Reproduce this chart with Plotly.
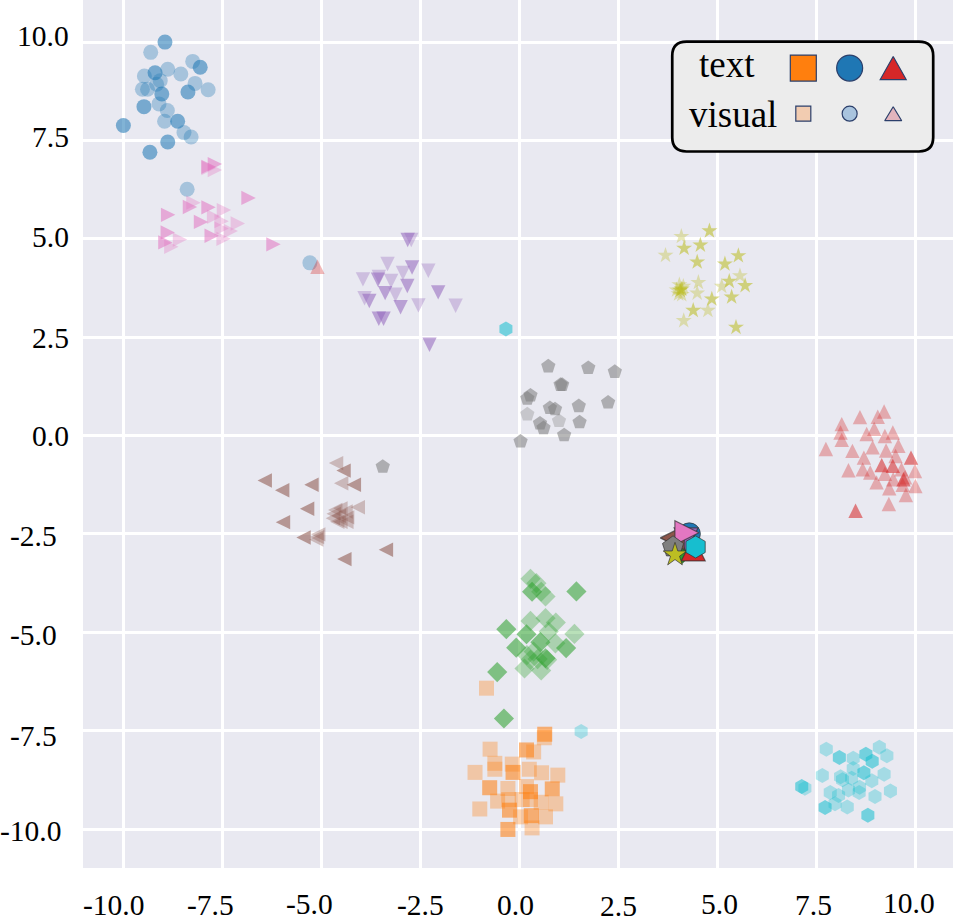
import plotly.graph_objects as go

# strong = more opaque points, faint = lighter points
blue_strong_x = [-8.95, -8.06, -9.2, -9.03, -8.37, -9.48, -8.63, -10.0, -8.88, -9.33]
blue_strong_y = [10.0, 9.36, 9.22, 8.68, 8.73, 8.36, 7.99, 7.88, 7.46, 7.2]
blue_faint_x = [-9.31, -8.25, -8.88, -8.55, -9.47, -9.07, -9.16, -8.19, -7.86, -9.52, -9.39, -9.1, -8.89, -8.96, -8.47, -8.29, -8.39, -5.29]
blue_faint_y = [9.74, 9.51, 9.31, 9.19, 9.14, 9.02, 8.93, 8.95, 8.79, 8.8, 8.8, 8.43, 8.26, 7.99, 7.7, 7.59, 6.26, 4.39]

orange_strong_x = [0.64, 0.18, -0.16, -0.75, 0.28, 0.83, -0.25, 0.3, -0.29]
orange_strong_y = [-7.59, -7.99, -8.56, -8.95, -9.05, -8.98, -9.52, -9.66, -10.01]
orange_faint_x = [-0.83, 0.63, 0.36, -0.74, -0.62, -0.62, -1.12, -0.18, 0.25, 0.56, 0.97, -0.29, 0.18, -0.55, -0.27, 0.07, 0.28, 0.55, 0.92, -1.0, 0.03, 0.66, 0.32]
orange_faint_y = [-6.42, -7.68, -8.04, -7.97, -8.33, -8.48, -8.56, -8.35, -8.48, -8.57, -8.63, -8.97, -8.92, -9.29, -9.25, -9.25, -9.25, -9.32, -9.36, -9.49, -9.69, -9.69, -9.97]

green_strong_x = [1.44, 0.32, -0.33, 0.18, -0.08, 0.53, 1.18, -0.56, -0.39, 0.66]
green_strong_y = [-3.96, -3.97, -4.92, -5.05, -5.39, -5.25, -5.4, -6.01, -7.19, -5.66]
green_faint_x = [0.28, 0.43, 0.55, 0.66, 0.28, 0.66, 0.92, 0.74, 1.39, 0.91, 0.19, 0.36, 0.28, 0.13, 0.55, 0.7, 0.46]
green_faint_y = [-3.64, -3.75, -3.97, -4.09, -4.71, -4.64, -4.75, -4.98, -5.04, -5.28, -5.58, -5.49, -5.7, -5.92, -5.97, -5.7, -5.68]

red_strong_x = [8.49, 9.89, 9.15, 9.43, 9.7]
red_strong_y = [-1.91, -0.56, -0.75, -0.77, -1.11]
red_faint_x = [9.21, 9.05, 8.6, 8.14, 8.11, 8.14, 7.74, 8.96, 8.77, 9.23, 9.43, 9.57, 8.92, 9.26, 8.41, 9.5, 8.7, 8.31, 8.67, 8.86, 9.23, 9.65, 9.99, 9.74, 9.44, 9.02, 9.34, 9.68, 10.0, 9.76, 9.33, -5.1]
red_faint_y = [0.61, 0.48, 0.47, 0.29, 0.08, -0.11, -0.34, 0.17, 0.04, -0.01, 0.08, -0.26, -0.3, -0.38, -0.39, -0.52, -0.56, -0.88, -0.86, -0.94, -0.97, -0.86, -0.9, -1.06, -1.11, -1.19, -1.34, -1.25, -1.28, -1.51, -1.74, 4.29]

purple_strong_x = [-2.82, -2.71, -2.83, -3.57, -3.39, -3.79, -3.0, -2.05, -3.55, -3.43, -2.27]
purple_strong_y = [4.97, 4.27, 3.8, 3.96, 3.62, 3.42, 3.26, 3.64, 2.97, 2.97, 2.31]
purple_faint_x = [-2.73, -3.55, -3.91, -3.33, -3.95, -3.24, -2.94, -2.3, -3.13, -2.55, -1.61]
purple_faint_y = [4.97, 4.03, 3.49, 4.36, 3.97, 3.93, 4.13, 4.19, 3.58, 3.31, 3.3]

brown_strong_x = [-6.43, -5.36, -3.37, -4.42, -5.99, -5.25, -4.18, -4.44, -5.97, -5.45]
brown_strong_y = [-1.14, -1.86, -2.9, -3.14, -1.39, -1.25, -1.25, -0.89, -2.2, -2.59]
brown_faint_x = [-4.63, -4.5, -4.08, -5.11, -5.08, -5.13, -4.65, -4.52, -4.39, -4.69, -4.56, -4.35, -4.71, -4.52, -4.37, -4.6]
brown_faint_y = [-0.7, -1.21, -1.82, -2.58, -2.51, -2.64, -1.89, -1.85, -1.93, -1.99, -2.04, -2.08, -2.1, -2.19, -2.19, -2.19]

pink_strong_x = [-6.84, -6.21, -7.69, -7.85, -8.32, -7.85, -8.04, -7.77, -8.87, -8.88, -8.94]
pink_strong_y = [6.04, 4.86, 6.9, 6.83, 5.81, 5.8, 5.43, 5.08, 5.61, 5.16, 4.91]
pink_faint_x = [-7.69, -7.85, -8.23, -7.46, -7.71, -7.52, -7.11, -7.52, -7.29, -7.47, -8.57, -8.79]
pink_faint_y = [6.75, 6.8, 5.92, 5.73, 5.56, 5.45, 5.39, 5.26, 5.2, 5.0, 4.98, 4.8]

gray_strong_x = [0.73, 1.74, 2.41, 1.08, 1.04, 0.28, 0.2, 0.77, 0.9, 1.5, 2.24, 1.52, 0.52, 0.61, 1.13, 0.03, -3.45]
gray_strong_y = [1.76, 1.72, 1.62, 1.29, 1.29, 1.02, 0.94, 0.7, 0.67, 0.75, 0.84, 0.34, 0.31, 0.19, 0.01, -0.15, -0.79]
gray_faint_x = [0.2, 1.0]
gray_faint_y = [0.54, 0.37]

olive_strong_x = [4.8, 4.16, 4.57, 4.49, 5.53, 5.19, 5.3, 5.7, 5.36, 4.86, 4.39, 5.47, 4.1, 4.06]
olive_strong_y = [5.2, 4.76, 4.84, 4.41, 4.57, 4.36, 3.92, 3.81, 3.52, 3.47, 3.18, 2.75, 3.72, 3.69]
olive_faint_x = [4.09, 3.69, 4.52, 4.49, 5.11, 5.57, 4.76, 4.15, 3.97, 4.04, 4.14, 4.1, 4.02]
olive_faint_y = [5.06, 4.58, 3.89, 3.62, 3.79, 4.06, 3.18, 2.92, 3.7, 3.83, 3.79, 3.58, 3.6]

cyan_strong_x = [8.08, 8.75, 8.91, 8.7, 7.72, 8.8, 7.13, -0.34]
cyan_strong_y = [-8.18, -8.1, -8.28, -8.57, -9.45, -9.65, -8.92, 2.71]
cyan_faint_x = [7.75, 9.09, 9.28, 8.43, 8.43, 7.65, 8.11, 8.16, 8.39, 8.9, 9.21, 8.59, 8.31, 8.58, 7.85, 8.06, 7.97, 8.28, 8.98, 9.37, 7.21, 1.56]
cyan_faint_y = [-7.97, -7.92, -8.14, -8.2, -8.46, -8.64, -8.67, -8.75, -8.71, -8.77, -8.61, -8.94, -9.01, -9.07, -9.07, -9.15, -9.36, -9.44, -9.17, -9.03, -8.96, -7.52]

# big markers piled up near (4.2, -2.8), one per class
center_x = [4.29, 4.18, 4.1, 4.39, 4.21, 3.86, 4.23, 3.88, 3.93, 4.45]
center_y = [-2.5, -2.85, -2.98, -2.88, -2.65, -2.6, -2.47, -2.83, -3.03, -2.83]

tick_vals = [-10, -7.5, -5, -2.5, 0, 2.5, 5, 7.5, 10]
tick_text = ["-10.0", "-7.5", "-5.0", "-2.5", "0.0", "2.5", "5.0", "7.5", "10.0"]
# the labels in the source are not evenly placed, nudges in px
x_label_dx = [-10, -12, -12, 0, -4, 0, 2, -3, -6]
x_label_dy = [0, 0, 1, 0, 0, -1, 1, 0, 2]
y_label_dx = [-20, -24, -24, -24, -12, -12, -12, -12, -12]
y_label_dy = [-2, -5, -3, -2, 0, -1, 2, 3, 6]

classes = [
    ("#1f77b4", "circle", 15, blue_strong_x, blue_strong_y, blue_faint_x, blue_faint_y),
    ("#ff7f0e", "square", 15, orange_strong_x, orange_strong_y, orange_faint_x, orange_faint_y),
    ("#2ca02c", "diamond", 15.5, green_strong_x, green_strong_y, green_faint_x, green_faint_y),
    ("#d62728", "up", 0, red_strong_x, red_strong_y, red_faint_x, red_faint_y),
    ("#9467bd", "down", 0, purple_strong_x, purple_strong_y, purple_faint_x, purple_faint_y),
    ("#8c564b", "left", 0, brown_strong_x, brown_strong_y, brown_faint_x, brown_faint_y),
    ("#e377c2", "right", 0, pink_strong_x, pink_strong_y, pink_faint_x, pink_faint_y),
    ("#7f7f7f", "pentagon", 15, gray_strong_x, gray_strong_y, gray_faint_x, gray_faint_y),
    ("#bcbd22", "star", 12, olive_strong_x, olive_strong_y, olive_faint_x, olive_faint_y),
    ("#17becf", "hexagon", 15, cyan_strong_x, cyan_strong_y, cyan_faint_x, cyan_faint_y),
]

FONT = "Liberation Serif"
EDGE = "#2b3f6b"
DARK_EDGE = "rgba(50,50,50,0.7)"
X_PX, Y_PX = 39.6, 39.35  # pixels per data unit
TRI_TURNS = {"up": [(0, 1), (-1, -1), (1, -1)], "down": [(0, -1), (-1, 1), (1, 1)],
             "left": [(-1, 0), (1, 1), (1, -1)], "right": [(1, 0), (-1, 1), (-1, -1)]}


def rgba(hex_color, alpha):
    r, g, b = (int(hex_color[i:i + 2], 16) for i in (1, 3, 5))
    return f"rgba({r},{g},{b},{alpha})"


def add_triangle(fig, x, y, turn, fill, half_w=7.2, half_h=7.2, edge=None):
    # plotly's triangle markers are too flat, matplotlib's are as tall as wide
    pts = TRI_TURNS[turn]
    xs = [x + dx * half_w / X_PX for dx, dy in pts]
    ys = [y + dy * half_h / Y_PX for dx, dy in pts]
    fig.add_trace(go.Scatter(x=xs + xs[:1], y=ys + ys[:1], fill="toself", fillcolor=fill,
                             mode="lines" if edge else "none", showlegend=False,
                             line=dict(color=edge, width=1.2) if edge else None))


def add_points(fig, xs, ys, color, symbol, size, alpha):
    if symbol in TRI_TURNS:
        for x, y in zip(xs, ys):
            add_triangle(fig, x, y, symbol, rgba(color, alpha))
    else:
        fig.add_trace(go.Scatter(x=xs, y=ys, mode="markers", showlegend=False,
                                 marker=dict(color=color, symbol=symbol, size=size, opacity=alpha, line_width=0)))


fig = go.Figure()

for color, symbol, size, sx, sy, fx, fy in classes:
    add_points(fig, fx, fy, color, symbol, size, 0.33)
    add_points(fig, sx, sy, color, symbol, size, 0.56)

for i, (color, symbol, size, *_) in enumerate(classes):
    if symbol in TRI_TURNS:
        add_triangle(fig, center_x[i], center_y[i], symbol, color, 12, 12, DARK_EDGE)
    else:
        big = 17 if symbol == "diamond" else size * 1.48
        fig.add_trace(go.Scatter(x=[center_x[i]], y=[center_y[i]], mode="markers", showlegend=False,
                                 marker=dict(color=color, symbol=symbol, size=big,
                                             line=dict(color=DARK_EDGE, width=1))))

# legend box, drawn by hand since it shows a 2x3 key
lx0, lx1, ly0, ly1, rx, ry = 3.86, 10.45, 7.22, 10.01, 0.36, 0.36
fig.add_shape(type="path", xref="x", yref="y", layer="between",
              path=(f"M{lx0+rx},{ly1} L{lx1-rx},{ly1} Q{lx1},{ly1} {lx1},{ly1-ry} "
                    f"L{lx1},{ly0+ry} Q{lx1},{ly0} {lx1-rx},{ly0} "
                    f"L{lx0+rx},{ly0} Q{lx0},{ly0} {lx0},{ly0+ry} "
                    f"L{lx0},{ly1-ry} Q{lx0},{ly1} {lx0+rx},{ly1} Z"),
              fillcolor="#ececec", line=dict(color="black", width=2.7))

key_x = [7.17, 8.34, 9.44]
key_text_y = 9.34
key_visual_y = 8.18
key_symbols = ["square", "circle"]
key_colors = ["#ff7f0e", "#1f77b4", "#d62728"]
key_faint = ["#f2ccb1", "#a9c4de", "#e2b4bd"]
fig.add_trace(go.Scatter(x=key_x[:2], y=[key_text_y] * 2, mode="markers", showlegend=False,
                         marker=dict(color=key_colors[:2], symbol=key_symbols, size=26,
                                     line=dict(color=EDGE, width=1.2))))
fig.add_trace(go.Scatter(x=key_x[:2], y=[key_visual_y] * 2, mode="markers", showlegend=False,
                         marker=dict(color=key_faint[:2], symbol=key_symbols, size=15,
                                     line=dict(color=EDGE, width=1.2))))
add_triangle(fig, key_x[2], key_text_y, "up", key_colors[2], 13, 11.5, EDGE)
add_triangle(fig, key_x[2], key_visual_y, "up", key_faint[2], 8.5, 7, EDGE)

fig.add_annotation(x=5.25, y=9.42, xref="x", yref="y", text="text", showarrow=False,
                   font=dict(family=FONT, size=37, color="black"))
fig.add_annotation(x=5.4, y=8.15, xref="x", yref="y", text="visual", showarrow=False,
                   font=dict(family=FONT, size=37, color="black"))

for val, label, dx, dy in zip(tick_vals, tick_text, x_label_dx, x_label_dy):
    fig.add_annotation(x=val, y=0, xref="x", yref="paper", text=label, showarrow=False,
                       xanchor="center", yanchor="middle", xshift=dx, yshift=-37 + dy,
                       font=dict(family=FONT, size=29.5, color="black"))
for val, label, dx, dy in zip(tick_vals, tick_text, y_label_dx, y_label_dy):
    fig.add_annotation(x=0, y=val, xref="paper", yref="y", text=label, showarrow=False,
                       xanchor="right", yanchor="middle", xshift=dx, yshift=dy,
                       font=dict(family=FONT, size=29.5, color="black"))

fig.update_layout(
    width=953, height=923,
    margin=dict(l=83, r=0, t=0, b=55),
    plot_bgcolor="#e9e9f1",
    paper_bgcolor="white",
    font=dict(family=FONT, size=29.5, color="black"),
    showlegend=False,
)
fig.update_xaxes(range=[-11.02, 10.95], tickvals=tick_vals, showticklabels=False,
                 showgrid=True, gridcolor="white", gridwidth=2.5, zeroline=False,
                 showline=False, ticks="")
fig.update_yaxes(range=[-10.99, 11.07], tickvals=tick_vals, showticklabels=False,
                 showgrid=True, gridcolor="white", gridwidth=2.5, zeroline=False,
                 showline=False, ticks="")

fig.write_html("out.html", config={"displayModeBar": False},
               post_script="document.body.style.margin='0';")
